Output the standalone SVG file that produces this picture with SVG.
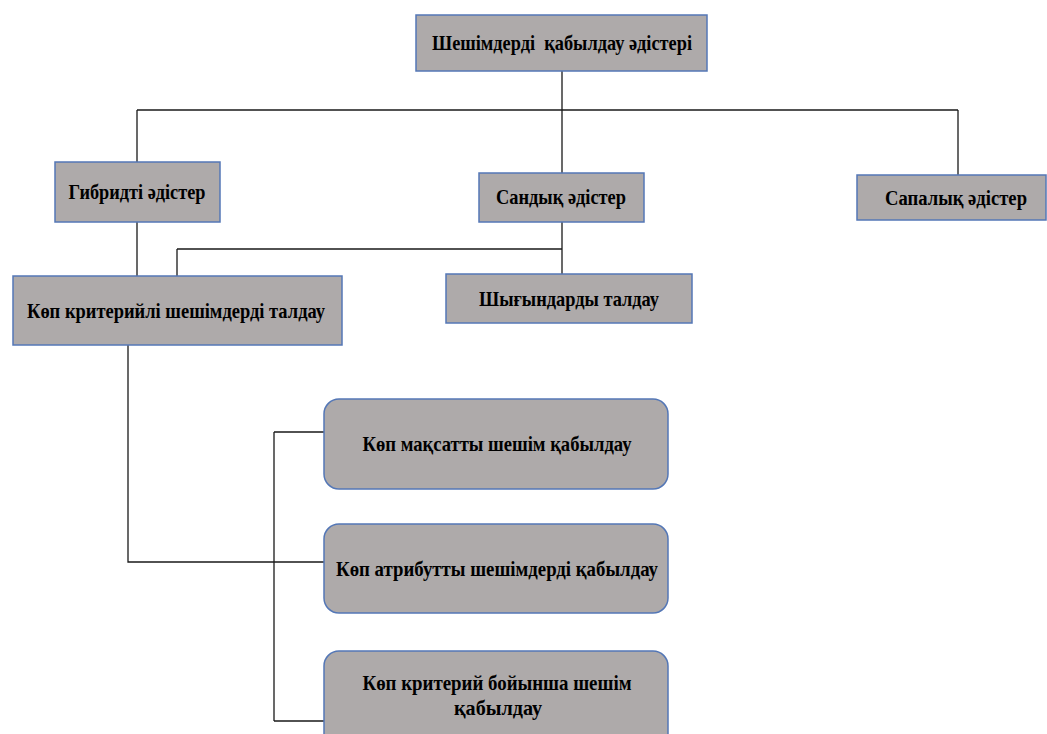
<svg xmlns="http://www.w3.org/2000/svg" width="1047" height="734" viewBox="0 0 1047 734">
<style>
.box{fill:#AEAAAA;stroke:#5477B6;stroke-width:1.5}
.t{font-family:"Liberation Serif","Times New Roman",serif;font-weight:bold;font-size:22px;fill:#000;text-anchor:middle;white-space:pre}
.c{fill:none;stroke:#1a1a1a;stroke-width:1.3}
</style>
<rect width="1047" height="734" fill="#fff"/>
<g id="connectors">
<path class="c" d="M562 71V110M137 110H958M137 110V162M562 110V173M958 110V175"/>
<path class="c" d="M137 222V276M562 222V274M177 249H562M177 249V276"/>
<path class="c" d="M128 345V562H325M274 432V721M274 432H325M274 721H325"/>
</g>
<g id="n-root"><rect class="box" x="416" y="15" width="291" height="56"/><text class="t" x="562" y="50" textLength="260" lengthAdjust="spacingAndGlyphs" xml:space="preserve">Шешімдерді  қабылдау әдістері</text></g>
<g id="n-hybrid"><rect class="box" x="55" y="162" width="165" height="60"/><text class="t" x="137" y="199" textLength="137" lengthAdjust="spacingAndGlyphs">Гибридті әдістер</text></g>
<g id="n-quant"><rect class="box" x="479" y="173" width="165" height="49"/><text class="t" x="561" y="204" textLength="130" lengthAdjust="spacingAndGlyphs">Сандық әдістер</text></g>
<g id="n-qual"><rect class="box" x="857" y="175" width="189" height="45"/><text class="t" x="956" y="205" textLength="142" lengthAdjust="spacingAndGlyphs" style="font-size:20px">Сапалық әдістер</text></g>
<g id="n-cost"><rect class="box" x="446" y="274" width="246" height="49"/><text class="t" x="569" y="306" textLength="180" lengthAdjust="spacingAndGlyphs">Шығындарды талдау</text></g>
<g id="n-mcda"><rect class="box" x="13" y="276" width="329" height="69"/><text class="t" x="176" y="318" textLength="298" lengthAdjust="spacingAndGlyphs">Көп критерийлі шешімдерді талдау</text></g>
<g id="n-mo"><rect class="box" x="324" y="399" width="344" height="90" rx="15"/><text class="t" x="497" y="451" textLength="269" lengthAdjust="spacingAndGlyphs">Көп мақсатты шешім қабылдау</text></g>
<g id="n-ma"><rect class="box" x="324" y="524" width="344" height="89" rx="15"/><text class="t" x="497" y="576" textLength="322" lengthAdjust="spacingAndGlyphs">Көп атрибутты шешімдерді қабылдау</text></g>
<g id="n-mc"><rect class="box" x="324" y="651" width="344" height="100" rx="15"/><text class="t" x="497" y="690" textLength="269" lengthAdjust="spacingAndGlyphs">Көп критерий бойынша шешім</text><text class="t" x="498" y="715" textLength="88" lengthAdjust="spacingAndGlyphs">қабылдау</text></g>
</svg>
